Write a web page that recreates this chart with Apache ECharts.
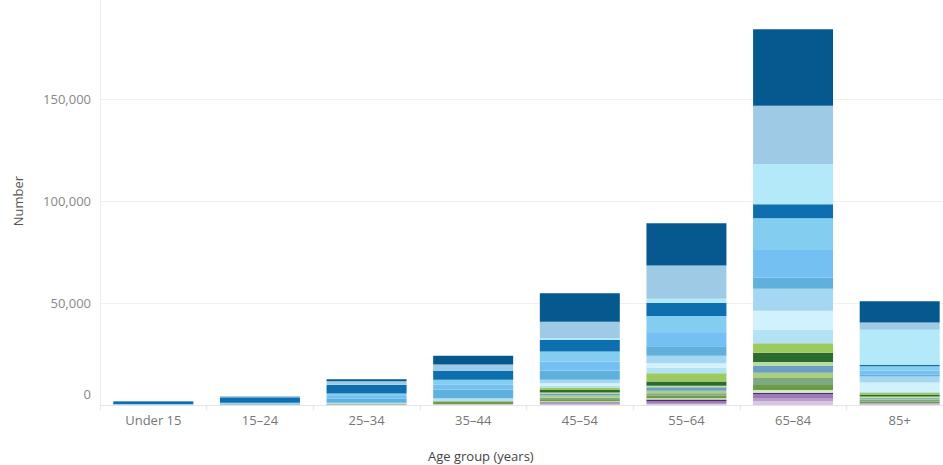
<!DOCTYPE html>
<html>
<head>
<meta charset="utf-8">
<script src="https://cdn.jsdelivr.net/npm/echarts@6/dist/echarts.min.js"></script>
<style>
    html, body { margin: 0; padding: 0; background: #fff; }
    #chart01 { width: 943px; height: 465px; }
</style>
</head>
<body>
<div id="chart01"></div>
<script>
var ageGroups = ['Under 15', '15–24', '25–34', '35–44', '45–54', '55–64', '65–84', '85+'];
var yTicks = [0, 50000, 100000, 150000];

// segments from bottom of the stack to the top
var s01 = [5, 10, 30, 100, 300, 400, 1900, 250];
var s02 = [5, 10, 30, 100, 300, 600, 1500, 250];
var s03 = [5, 10, 50, 150, 500, 1000, 2000, 200];
var s04 = [5, 10, 20, 50, 200, 650, 650, 100];
var s05 = [10, 10, 30, 100, 500, 700, 1300, 150];
var s06 = [10, 30, 150, 1000, 650, 1150, 2450, 650];
var s07 = [10, 10, 50, 200, 1150, 1300, 3400, 800];
var s08 = [10, 10, 30, 150, 1000, 1150, 2600, 650];
var s09 = [10, 10, 30, 100, 850, 1800, 3300, 500];
var s10 = [10, 10, 20, 50, 650, 650, 2000, 650];
var s11 = [10, 10, 30, 100, 1300, 2100, 4550, 650];
var s12 = [10, 10, 30, 100, 1150, 4100, 4600, 1000];
var s13 = [10, 20, 50, 150, 1000, 2750, 6500, 800];
var s14 = [20, 30, 100, 200, 1150, 2150, 9450, 4400];
var s15 = [50, 100, 400, 850, 1650, 3700, 10800, 2950];
var s16 = [80, 300, 2000, 4050, 4550, 4550, 5400, 850];
var s17 = [80, 250, 1400, 2450, 4400, 6500, 13600, 2100];
var s18 = [100, 300, 1200, 2450, 4900, 8350, 15500, 2000];
var s19 = [1400, 2700, 4300, 4550, 5700, 6350, 6850, 800];
var s20 = [20, 50, 150, 300, 850, 2150, 19750, 17150];
var s21 = [40, 150, 1600, 2600, 8000, 16300, 28600, 3600];
var s22 = [40, 100, 900, 4400, 14050, 20750, 37450, 10300];

var stackData = [s01, s02, s03, s04, s05, s06, s07, s08, s09, s10, s11,
    s12, s13, s14, s15, s16, s17, s18, s19, s20, s21, s22];
var stackColors = ['#d8c6e3', '#b99cce', '#9b7ab5', '#4d2c62', '#d4e9c5', '#6c9d46',
    '#80a880', '#a9d07b', '#6b9fc6', '#b8dca3', '#2c6b2e', '#9dca5e',
    '#b4e2f5', '#d1f1fc', '#a6d7f2', '#5fb1dc', '#74c0f3', '#83cdf0',
    '#0d6faf', '#b3e9f9', '#9fcae6', '#05598f'];

var chart01 = echarts.init(document.getElementById("chart01"), null, {renderer: 'svg'});

var seriesList = [];
for (var i = 0; i < stackData.length; i++) {
    seriesList.push({
        name: 'Segment ' + (i + 1),
        type: 'bar',
        stack: 'total',
        barCategoryGap: '25%',
        itemStyle: {color: stackColors[i]},
        data: stackData[i]
    });
}

var option = {
    animation: false,
    textStyle: {fontFamily: 'Open Sans'},
    grid: {
        left: 100,
        width: 853,
        top: -3,
        bottom: 60,
        outerBoundsMode: 'none'
    },
    xAxis: {
        type: 'category',
        data: ageGroups,
        axisLine: {lineStyle: {color: '#e4e4e4'}},
        axisTick: {show: true, length: 5, lineStyle: {color: '#e4e4e4'}},
        axisLabel: {color: '#777', fontSize: 13, margin: 8}
    },
    yAxis: {
        type: 'value',
        min: 0,
        max: 200000,
        interval: 50000,
        name: 'Number',
        nameLocation: 'middle',
        nameGap: 76,
        nameTextStyle: {color: '#555', fontSize: 13},
        axisLine: {show: true, lineStyle: {color: '#ececec'}},
        axisTick: {show: false},
        splitLine: {lineStyle: {color: '#f0f0f0'}},
        axisLabel: {
            color: '#888',
            fontSize: 13,
            margin: 9,
            showMaxLabel: false,
            formatter: function (v) {
                if (yTicks.indexOf(v) < 0) return '';
                if (v === 0) return '{z|0}';
                return v.toLocaleString('en-US');
            },
            rich: {z: {color: '#888', fontSize: 13, padding: [0, 0, 22, 0]}}
        }
    },
    graphic: [{
        type: 'text',
        left: 428,
        top: 449,
        style: {text: 'Age group (years)', fill: '#444', font: '13px "Open Sans"'}
    }],
    series: seriesList
};
chart01.setOption(option, true);
</script>
</body>
</html>
